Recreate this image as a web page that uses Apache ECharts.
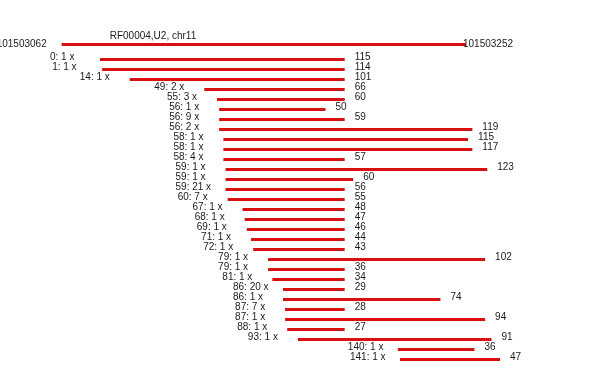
<!DOCTYPE html>
<html><head><meta charset="utf-8">
<script src="https://cdn.jsdelivr.net/npm/echarts@6/dist/echarts.min.js"></script>
<style>html,body{margin:0;padding:0;background:#fff}#c{width:590px;height:380px}</style>
</head><body><div id="c"></div>
<script>
const chartTitle = 'RF00004,U2, chr11';
const refStart = 101503062;
const refEnd = 101503252;
const refOffset = -18;
const readStarts = [0,1,14,49,55,56,56,56,58,58,58,59,59,59,60,67,68,69,71,72,79,79,81,86,86,87,87,88,93,140,141];
const readCounts = [1,1,1,2,3,1,9,2,1,1,4,1,1,21,7,1,1,1,1,1,1,1,1,20,1,7,1,1,1,1,1];
const readLengths = [115,114,101,66,60,50,59,119,115,117,57,123,60,56,55,48,47,46,44,43,102,36,34,29,74,28,94,27,91,36,47];

const chart = echarts.init(document.getElementById('c'), null, {renderer: 'canvas'});
const readData = readStarts.map((s, i) => [s, s + readLengths[i], i, readCounts[i], readLengths[i]]);
const refData = [[refOffset, refOffset + (refEnd - refStart), -1.5]];
const lineColor = '#d81010';
const textColor = '#1a1a1a';
const font = '10px "Liberation Sans", Arial, sans-serif';

const option = {
  animation: false,
  grid: {left: 100, right: 90, top: 44.5, bottom: 20.5},
  xAxis: {type: 'value', min: 0, max: 188, show: false},
  yAxis: {type: 'value', inverse: true, min: -1.5, max: 30, show: false},
  series: [
    {
      type: 'custom', clip: false, data: refData,
      renderItem(params, api) {
        const p0 = api.coord([api.value(0), api.value(2)]);
        const p1 = api.coord([api.value(1), api.value(2)]);
        return {type: 'group', children: [
          {type: 'line', shape: {x1: p0[0], y1: p0[1], x2: p1[0], y2: p1[1]}, style: {stroke: lineColor, lineWidth: 3}},
          {type: 'text', x: p0[0] - 15, y: p0[1] - 0.5, style: {text: String(refStart), align: 'right', verticalAlign: 'middle', font: font, fill: textColor}},
          {type: 'text', x: p1[0] - 3, y: p0[1] - 0.5, style: {text: String(refEnd), align: 'left', verticalAlign: 'middle', font: font, fill: textColor}},
          {type: 'text', x: p0[0] + 48, y: p0[1] - 8.5, style: {text: chartTitle, align: 'left', verticalAlign: 'middle', font: font, fill: textColor}}
        ]};
      }
    },
    {
      type: 'custom', clip: false, data: readData,
      renderItem(params, api) {
        const p0 = api.coord([api.value(0), api.value(2)]);
        const p1 = api.coord([api.value(1), api.value(2)]);
        return {type: 'group', children: [
          {type: 'line', shape: {x1: p0[0], y1: p0[1], x2: p1[0], y2: p1[1]}, style: {stroke: lineColor, lineWidth: 3}},
          {type: 'text', x: p0[0] - 50, y: p0[1] - 2, style: {text: api.value(0) + ': ' + api.value(3) + ' x', align: 'left', verticalAlign: 'middle', font: font, fill: textColor}},
          {type: 'text', x: p1[0] + 10, y: p0[1] - 2, style: {text: String(api.value(4)), align: 'left', verticalAlign: 'middle', font: font, fill: textColor}}
        ]};
      }
    }
  ]
};
chart.setOption(option);
</script></body></html>
